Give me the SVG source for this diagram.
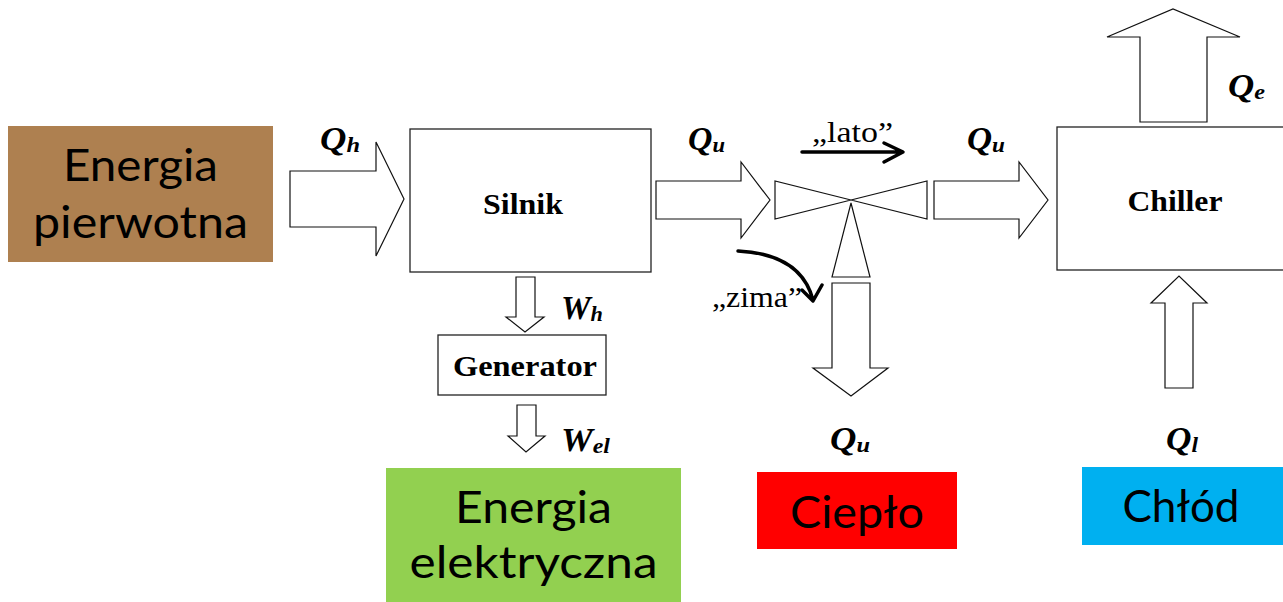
<svg xmlns="http://www.w3.org/2000/svg" width="1283" height="602" viewBox="0 0 1283 602">
<style>
.box{fill:#fff;stroke:#222;stroke-width:1.3}
.arr{fill:#fff;stroke:#111;stroke-width:1.2;stroke-linejoin:miter}
.thick{fill:none;stroke:#000;stroke-width:3.5;stroke-linecap:round;stroke-linejoin:round}
.sans{font-family:Lato,"Open Sans","Liberation Sans",sans-serif;font-size:45px;fill:#000}
.bold{font-family:"Liberation Serif","Times New Roman",serif;font-size:30px;font-weight:bold;fill:#000}
.lab{font-family:"Liberation Serif","Times New Roman",serif;font-size:33px;font-weight:bold;font-style:italic;fill:#000}
.sub{font-size:22px}
.reg{font-family:"Liberation Serif","Times New Roman",serif;font-size:30px;fill:#000}
</style>
<rect width="1283" height="602" fill="#fff"/>
<g id="energia-pierwotna">
<rect x="8" y="126" width="265" height="136" fill="#AE8050"/>
<text class="sans" x="140.5" y="181" text-anchor="middle" textLength="155" lengthAdjust="spacingAndGlyphs">Energia</text>
<text class="sans" x="140.5" y="238" text-anchor="middle" textLength="215" lengthAdjust="spacingAndGlyphs">pierwotna</text>
</g>
<g id="silnik">
<rect class="box" x="410" y="129" width="241" height="143"/>
<text class="bold" x="523" y="214" text-anchor="middle" textLength="80" lengthAdjust="spacingAndGlyphs">Silnik</text>
</g>
<g id="generator">
<rect class="box" x="438" y="335" width="168" height="60"/>
<text class="bold" x="525" y="376" text-anchor="middle" textLength="144" lengthAdjust="spacingAndGlyphs">Generator</text>
</g>
<g id="zawor">
<polygon class="arr" points="775,181 775,219 851,200"/>
<polygon class="arr" points="927,181 927,219 851,200"/>
<polygon class="arr" points="851,203 832,277 870,277"/>
</g>
<g id="chiller">
<rect class="box" x="1057" y="127" width="240" height="143"/>
<text class="bold" x="1175" y="211" text-anchor="middle" textLength="95" lengthAdjust="spacingAndGlyphs">Chiller</text>
</g>
<g id="energia-elektryczna">
<rect x="386" y="468" width="295" height="140" fill="#92D050"/>
<text class="sans" x="533.5" y="523" text-anchor="middle" textLength="157" lengthAdjust="spacingAndGlyphs">Energia</text>
<text class="sans" x="533.5" y="578" text-anchor="middle" textLength="248" lengthAdjust="spacingAndGlyphs">elektryczna</text>
</g>
<g id="cieplo">
<rect x="757" y="472" width="200" height="77" fill="#FF0000"/>
<text class="sans" x="857" y="528" text-anchor="middle" textLength="134" lengthAdjust="spacingAndGlyphs">Ciepło</text>
</g>
<g id="chlod">
<rect x="1082" y="467" width="210" height="78" fill="#00B0F0"/>
<text class="sans" x="1181" y="522" text-anchor="middle" textLength="117" lengthAdjust="spacingAndGlyphs">Chłód</text>
</g>
<g id="connectors">
<path class="arr" d="M290,171 H376 V142 L404,199 L376,256 V227 H290 Z"/>
<path class="arr" d="M656,181 H741 V162 L770,200 L741,238 V219 H656 Z"/>
<path class="arr" d="M934,181 H1019 V162 L1048,200 L1019,238 V219 H934 Z"/>
<path class="arr" d="M516,277 V317 H506 L525,332 L544,317 H535 V277 Z"/>
<path class="arr" d="M517,405 V436 H508 L526,452 L545,436 H536 V405 Z"/>
<path class="arr" d="M832,283 V368 H813 L851,396 L888,368 H870 V283 Z"/>
<path class="arr" d="M1165,388 V303 H1151 L1179,276 L1207,303 H1193 V388 Z"/>
<path class="arr" d="M1140,122 V37 H1107 L1173,9 L1240,37 H1207 V122 Z"/>
<path class="thick" d="M802,152 H902 M884,143 L903,152 L884,162"/>
<path class="thick" d="M738,251 Q801,254 813,300 M802,290 L813,301 L822,285"/>
<text class="lab" x="320" y="150" textLength="40" lengthAdjust="spacingAndGlyphs">Q<tspan class="sub" dy="2">h</tspan></text>
<text class="lab" x="688" y="150" textLength="37" lengthAdjust="spacingAndGlyphs">Q<tspan class="sub" dy="2">u</tspan></text>
<text class="lab" x="967" y="150" textLength="38" lengthAdjust="spacingAndGlyphs">Q<tspan class="sub" dy="2">u</tspan></text>
<text class="lab" x="1228" y="97" textLength="37" lengthAdjust="spacingAndGlyphs">Q<tspan class="sub" dy="2">e</tspan></text>
<text class="lab" x="561" y="319" textLength="42" lengthAdjust="spacingAndGlyphs">W<tspan class="sub" dy="2">h</tspan></text>
<text class="lab" x="561" y="451" textLength="49" lengthAdjust="spacingAndGlyphs">W<tspan class="sub" dy="2">el</tspan></text>
<text class="lab" x="830" y="450" textLength="40" lengthAdjust="spacingAndGlyphs">Q<tspan class="sub" dy="2">u</tspan></text>
<text class="lab" x="1166" y="450" textLength="32" lengthAdjust="spacingAndGlyphs">Q<tspan class="sub" dy="2">l</tspan></text>
<text class="reg" x="812" y="142" textLength="81" lengthAdjust="spacingAndGlyphs">„lato”</text>
<text class="reg" x="712" y="307" textLength="90" lengthAdjust="spacingAndGlyphs">„zima”</text>
</g>
</svg>
